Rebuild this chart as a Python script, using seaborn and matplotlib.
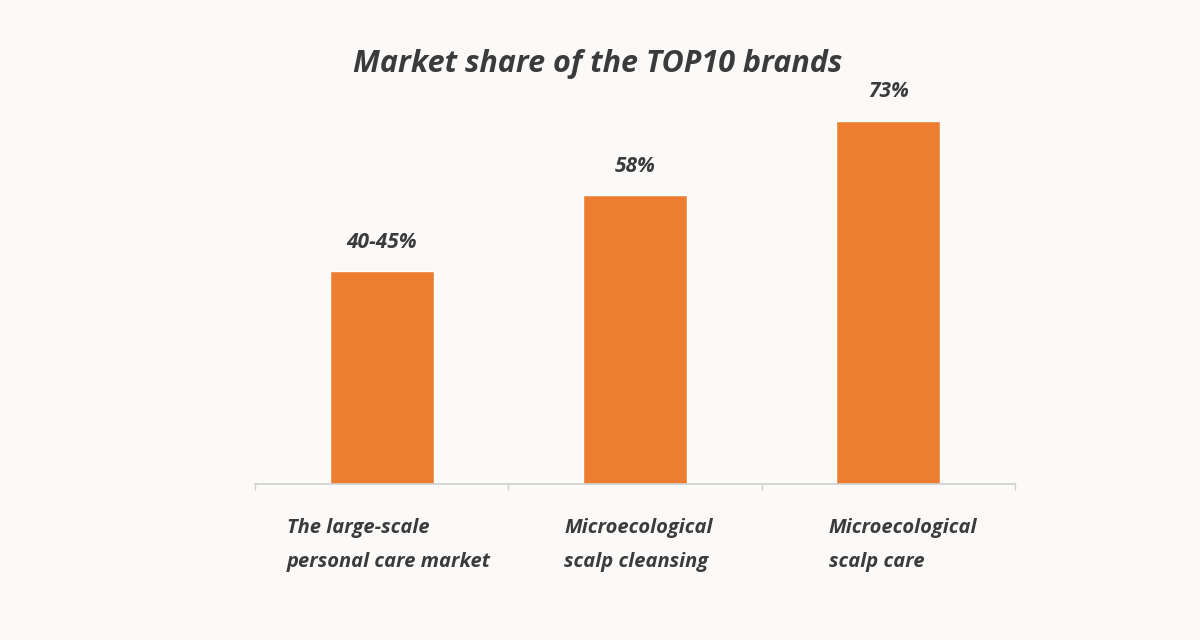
import seaborn as sns
import matplotlib.pyplot as plt
import pandas as pd

# chart values
categories = ['The large-scale\npersonal care market',
              'Microecological\nscalp cleansing',
              'Microecological\nscalp care']
share = [42.8, 58, 73]
share_labels = ['40-45%', '58%', '73%']

df = pd.DataFrame({'category': categories, 'share': share})

sns.set_style('white')
plt.rcParams['font.family'] = ['Open Sans', 'DejaVu Sans']

text_col = '#3b3b3b'
bg = '#fbfaf8'

fig = plt.figure(figsize=(12, 6.4), dpi=100, facecolor=bg)
ax = fig.add_axes([0.2125, 0.24375, 0.6333, 0.6219])
ax.set_facecolor(bg)

sns.barplot(x='category', y='share', data=df, color='#ED7D31',
            width=0.41, saturation=1, ax=ax)

ax.set_xlim(-0.5, 2.5)
ax.set_ylim(0, 80)

for i, (v, lab) in enumerate(zip(share, share_labels)):
    ax.text(i, v + 5.8, lab, ha='center', va='center', fontsize=15,
            fontweight='bold', fontstyle='italic', color=text_col)

# category labels are left aligned and sit a bit left of each bar
offsets = [-0.375, -0.28, -0.235]
for i, (cat, off) in enumerate(zip(categories, offsets)):
    ax.text(i + off, -6.8, cat, ha='left', va='top', fontsize=14.5,
            fontweight='bold', fontstyle='italic', color=text_col,
            linespacing=1.95)

ax.set_xticks([])
ax.set_xticks([-0.5, 0.5, 1.5, 2.5], minor=True)
ax.tick_params(axis='x', which='minor', direction='out', length=4,
               width=1, color='#cfcfcf', bottom=True)
ax.set_yticks([])
ax.set_xlabel('')
ax.set_ylabel('')
for s in ['top', 'right', 'left']:
    ax.spines[s].set_visible(False)
ax.spines['bottom'].set_color('#cfcfcf')
ax.spines['bottom'].set_linewidth(1.2)

fig.text(0.498, 0.9, 'Market share of the TOP10 brands', ha='center',
         va='center', fontsize=22, fontweight='bold', fontstyle='italic',
         color=text_col)

plt.savefig('out.png', dpi=100, facecolor=bg)
